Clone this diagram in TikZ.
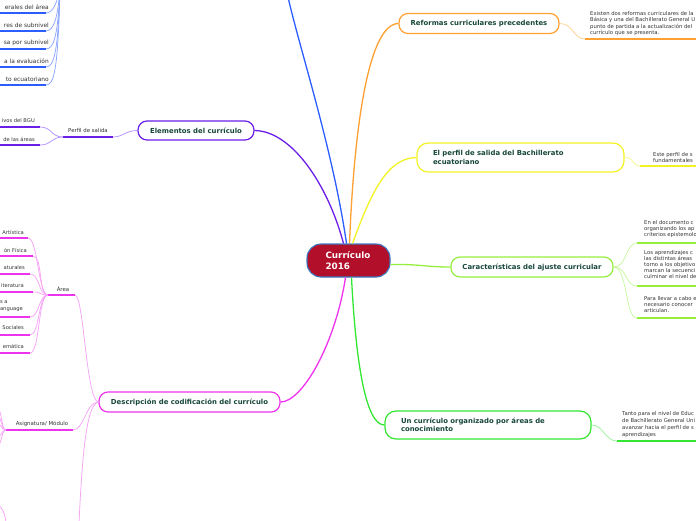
\documentclass[tikz,border=0pt]{standalone}
\usepackage{fontspec}
\setmainfont{DejaVu Sans}
\usetikzlibrary{calc}
\definecolor{cblue}{HTML}{2C5DFF}
\definecolor{cblueL}{HTML}{8CA6FF}
\definecolor{cpurple}{HTML}{6A1EE8}
\definecolor{cpurpleL}{HTML}{B392FF}
\definecolor{corange}{HTML}{FFA033}
\definecolor{corangeL}{HTML}{FFCF8F}
\definecolor{cyellow}{HTML}{F2F224}
\definecolor{cyellowL}{HTML}{F5F58C}
\definecolor{clime}{HTML}{96EE3C}
\definecolor{climeL}{HTML}{C8F7A0}
\definecolor{cgreen}{HTML}{33E633}
\definecolor{cgreenL}{HTML}{9CF39C}
\definecolor{cmag}{HTML}{EE33EE}
\definecolor{cmagL}{HTML}{F6A3F6}
\definecolor{cred}{HTML}{B10F2A}
\definecolor{cborder}{HTML}{3A79C2}
\definecolor{ctext}{HTML}{17463A}
\definecolor{cleaf}{HTML}{333333}
\begin{document}
\begin{tikzpicture}[x=1pt,y=-1pt,
  mainbox/.style={draw, line width=1.2pt, rounded corners=9pt, fill=white,
    font=\fontsize{6.9}{8.4}\selectfont\bfseries, text=ctext, inner sep=0pt, minimum height=20pt},
  leaftext/.style={font=\fontsize{5.3}{6.3}\selectfont, text=cleaf, inner sep=0pt, align=left},
  sublabel/.style={font=\fontsize{5.4}{6.5}\selectfont, text=cleaf, inner sep=0pt},
  uline/.style={line width=1.7pt},
  conn/.style={line width=1.3pt},
  thinconn/.style={line width=0.75pt}]
\useasboundingbox (0,0) rectangle (696,520);

% ---------- center ----------
\node[draw=cborder, fill=cred, line width=1.1pt, rounded corners=14pt,
  minimum width=83pt, minimum height=33pt, text width=46pt, inner xsep=18.5pt, inner ysep=0pt,
  align=left, text=white, font=\fontsize{8.8}{11}\selectfont\bfseries] (c) at (348.5,260.5) {Currículo\\2016};

% ---------- main topics ----------
\node[mainbox, draw=corange, minimum width=160pt] (ref) at (479,23.5) {Reformas curriculares precedentes};
\node[mainbox, draw=cyellow, minimum width=207pt, minimum height=29pt, text width=175pt, inner xsep=16pt, align=left, rounded corners=11pt] (perfil) at (520.5,157.5) {El perfil de salida del Bachillerato\\ecuatoriano};
\node[mainbox, draw=clime, minimum width=162pt] (carac) at (532,267) {Características del ajuste curricular};
\node[mainbox, draw=cgreen, minimum width=206pt, minimum height=28pt, text width=174pt, inner xsep=16pt, align=left, rounded corners=11pt] (areas) at (488,425) {Un currículo organizado por áreas de\\conocimiento};
\node[mainbox, draw=cmag, minimum width=181pt] (desc) at (189.5,402) {Descripción de codificación del currículo};
\node[mainbox, draw=cpurple, minimum width=116pt, minimum height=19pt] (elem) at (196,130.5) {Elementos del currículo};

% ---------- main connectors ----------
\coordinate (bluetop) at (288,-3);
\draw[conn, cblue] ($(c.north)+(-2,0)$) .. controls (333,150) and (300,50) .. (bluetop);
\draw[conn, cpurple] ($(c.north)+(-5,0)$) .. controls (328,185) and (292,131) .. (elem.east);
\draw[conn, corange] ($(c.north)+(1,0)$) .. controls (354,130) and (368,24) .. (ref.west);
\draw[conn, cyellow] ($(c.north)+(4,0)$) .. controls (372,190) and (388,158) .. (perfil.west);
\draw[conn, clime] ($(c.east)+(0,4)$) .. controls (420,264) and (425,267) .. (carac.west);
\draw[conn, cgreen] ($(c.south)+(3,0)$) .. controls (356,365) and (366,425) .. (areas.west);
\draw[conn, cmag] ($(c.south)+(-3,0)$) .. controls (335,345) and (302,402) .. (desc.east);

% ---------- orange leaf ----------
\coordinate (o1) at (585,39);
\coordinate (o1e) at (698,39);
\draw[thinconn, corangeL] (ref.east) .. controls +(14,0) and +(-12,0) .. (o1);
\draw[uline, corange] (o1) -- (o1e);
\node[leaftext, anchor=north west, font=\fontsize{5.3}{6.4}\selectfont] (ot) at (590,11.2) {Existen dos reformas curriculares de la\\Básica y una del Bachillerato General U\\punto de partida a la actualización del\\currículo que se presenta.};

% ---------- yellow leaf ----------
\coordinate (y1) at (640,166);
\coordinate (y1e) at (698,166);
\draw[thinconn, cyellowL] (perfil.east) .. controls +(10,0) and +(-8,0) .. (y1);
\draw[uline, cyellow] (y1) -- (y1e);
\node[leaftext, anchor=north west] (yt) at (653,152.2) {Este perfil de s\\fundamentales};

% ---------- lime leaves ----------
\coordinate (l1) at (637,243); \coordinate (l1e) at (698,243);
\coordinate (l2) at (637,286); \coordinate (l2e) at (698,286);
\coordinate (l3) at (637,318); \coordinate (l3e) at (698,318);
\draw[thinconn, climeL] (carac.east) .. controls +(14,0) and +(-12,0) .. (l1);
\draw[thinconn, climeL] (carac.east) .. controls +(14,0) and +(-12,0) .. (l2);
\draw[thinconn, climeL] (carac.east) .. controls +(14,0) and +(-12,0) .. (l3);
\draw[uline, clime] (l1) -- (l1e);
\draw[uline, clime] (l2) -- (l2e);
\draw[uline, clime] (l3) -- (l3e);
\node[leaftext, anchor=north west, font=\fontsize{5.3}{5.9}\selectfont] (lt1) at (644,220.4) {En el documento c\\organizando los ap\\criterios epistemolo};
\node[leaftext, anchor=north west, font=\fontsize{5.3}{6}\selectfont] (lt2) at (644,250.4) {Los aprendizajes c\\las distintas áreas\\torno a los objetivo\\marcan la secuenci\\culminar el nivel de};
\node[leaftext, anchor=north west, font=\fontsize{5.3}{5.8}\selectfont] (lt3) at (644,296.4) {Para llevar a cabo e\\necesario conocer\\articulan.};

% ---------- green leaf ----------
\coordinate (g1) at (617,441); \coordinate (g1e) at (698,441);
\draw[thinconn, cgreenL] (areas.east) .. controls +(12,0) and +(-12,0) .. (g1);
\draw[uline, cgreen] (g1) -- (g1e);
\node[leaftext, anchor=north west, font=\fontsize{5.3}{6.9}\selectfont] (gt) at (622,411.4) {Tanto para el nivel de Educ\\de Bachillerato General Uni\\avanzar hacia el perfil de s\\aprendizajes};

% ---------- purple sub ----------
\coordinate (pa) at (63,137); \coordinate (pb) at (113,137);
\node[sublabel] (ps) at (88,130.5) {Perfil de salida};
\draw[thinconn, cpurpleL] (elem.west) .. controls +(-12,0) and +(10,0) .. (pb);
\draw[uline, cpurple] (pa) -- (pb);
\coordinate (pl1) at (40,127); \coordinate (pl1e) at (-2,127);
\coordinate (pl2) at (40,145); \coordinate (pl2e) at (-2,145);
\draw[thinconn, cpurpleL] (pa) .. controls +(-12,0) and +(12,0) .. (pl1);
\draw[thinconn, cpurpleL] (pa) .. controls +(-12,0) and +(12,0) .. (pl2);
\draw[uline, cpurple] (pl1) -- (pl1e);
\draw[uline, cpurple] (pl2) -- (pl2e);
\node[sublabel, anchor=east, font=\fontsize{5.2}{6}\selectfont] (plt1) at (35,121) {ivos del BGU};
\node[sublabel, anchor=east, font=\fontsize{5.2}{6}\selectfont] (plt2) at (35,139) {de las áreas};

% ---------- blue leaves (top left) ----------
\coordinate (bh) at (60,-12);
\foreach \yy/\name/\txt in {13/b1/{erales del área}, 31/b2/{res de subnivel}, 49/b3/{sa por subnivel}, 67/b4/{a la evaluación}, 85/b5/{to ecuatoriano}}{
  \coordinate (\name) at (46,\yy);
  \coordinate (\name e) at (-2,\yy);
  \draw[thinconn, cblueL] (\name) .. controls (54,\yy) and (58,\yy-14) .. (bh);
  \draw[uline, cblue] (\name) -- (\name e);
  \node[sublabel, anchor=east, font=\fontsize{5.9}{6}\selectfont] (\name t) at (49,\yy-6) {\txt};
}

% ---------- magenta subs ----------
\coordinate (aH) at (48,295); \coordinate (aE) at (75,295);
\node[sublabel] (area) at (63,289.3) {Área};
\draw[thinconn, cmagL] (desc.west) .. controls (86,400) and (84,296) .. (aE);
\draw[uline, cmag] (aH) -- (aE);
\coordinate (sH) at (6,430); \coordinate (sE) at (73,430);
\node[sublabel] (asig) at (42,423.5) {Asignatura/ Módulo};
\draw[thinconn, cmagL] (desc.west) .. controls (86,402) and (84,430) .. (sE);
\draw[uline, cmag] (sH) -- (sE);
\coordinate (mB) at (79,523);
\draw[thinconn, cmagL] (desc.west) .. controls (86,404) and (82,460) .. (mB);

% Área leaves
\foreach \xx/\yy/\name in {28/238/a1, 33/256/a2, 30/274/a3, 33/292/a4, 30/317/a5, 30/335/a6, 30/353/a7}{
  \coordinate (\name) at (\xx,\yy);
  \coordinate (\name e) at (-2,\yy);
  \draw[thinconn, cmagL] (aH) .. controls +(-10,0) and +(10,0) .. (\name);
  \draw[uline, cmag] (\name) -- (\name e);
}
\node[sublabel, anchor=east, font=\fontsize{5.2}{6}\selectfont] (at1) at (24,232) {Artística};
\node[sublabel, anchor=east, font=\fontsize{5.2}{6}\selectfont] (at2) at (27,250) {ón Física};
\node[sublabel, anchor=east, font=\fontsize{5.2}{6}\selectfont] (at3) at (25,268) {aturales};
\node[sublabel, anchor=east, font=\fontsize{5.2}{6}\selectfont] (at4) at (24,286) {iteratura};
\node[sublabel, anchor=north east, align=left, font=\fontsize{5.2}{6.8}\selectfont] (at5) at (23,300.3) {s a\\anguage};
\node[sublabel, anchor=east, font=\fontsize{5.2}{6}\selectfont] (at6) at (24,328) {Sociales};
\node[sublabel, anchor=east, font=\fontsize{5.2}{6}\selectfont] (at7) at (24,346) {emática};

% Asignatura fan (off-canvas)
\foreach \yy/\name in {408/s1, 416/s2, 424/s3, 437/s4, 446/s5}{
  \coordinate (\name) at (-3,\yy);
  \draw[thinconn, cmagL] (sH) .. controls (1,430) and (2,\yy) .. (\name);
}
\coordinate (bl1) at (-3,504);
\coordinate (bl2) at (6,523);
\draw[thinconn, cmagL] (bl1) .. controls (3,508) and (5,514) .. (bl2);
\end{tikzpicture}
\end{document}
